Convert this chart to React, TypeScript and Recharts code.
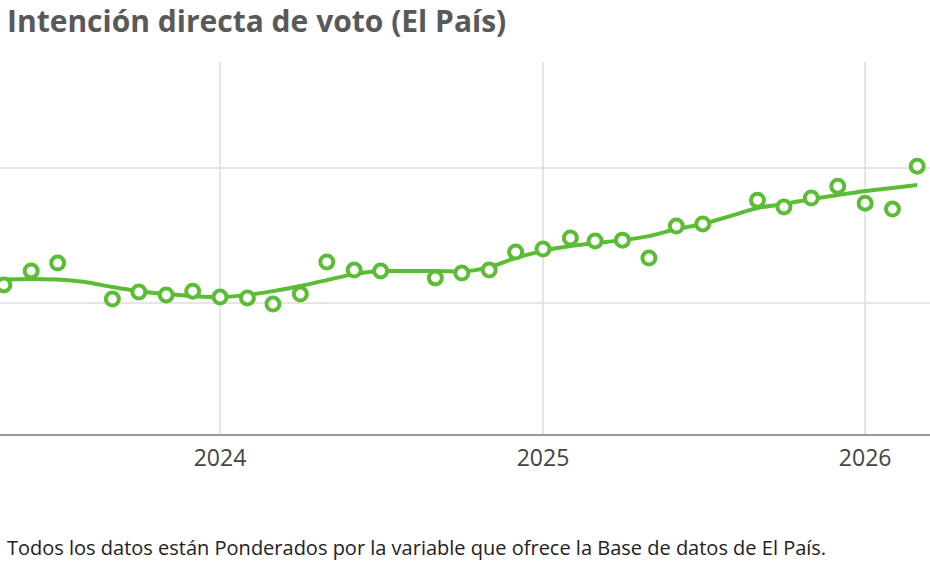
import React from "react";
import {
  ComposedChart,
  Line,
  Scatter,
  XAxis,
  YAxis,
  CartesianGrid,
} from "recharts";

// Encuestas mensuales (puntos)
const pollMonths = [
  "2023-05", "2023-06", "2023-07", "2023-09", "2023-10", "2023-11", "2023-12",
  "2024-01", "2024-02", "2024-03", "2024-04", "2024-05", "2024-06", "2024-07",
  "2024-09", "2024-10", "2024-11", "2024-12", "2025-01", "2025-02", "2025-03",
  "2025-04", "2025-05", "2025-06", "2025-07", "2025-09", "2025-10", "2025-11",
  "2025-12", "2026-01", "2026-02", "2026-03",
];
const pollValues = [
  10.67, 11.19, 11.48, 10.15, 10.41, 10.3, 10.44,
  10.22, 10.19, 9.96, 10.33, 11.52, 11.22, 11.19,
  10.93, 11.11, 11.22, 11.89, 12.0, 12.41, 12.3,
  12.33, 11.67, 12.85, 12.93, 13.81, 13.56, 13.89,
  14.33, 13.7, 13.48, 15.07,
];

// Tendencia suavizada
const trendMonths = [
  "2023-05", "2023-06", "2023-07", "2023-08", "2023-09", "2023-10", "2023-11",
  "2023-12", "2024-01", "2024-02", "2024-03", "2024-04", "2024-05", "2024-06",
  "2024-07", "2024-08", "2024-09", "2024-10", "2024-11", "2024-12", "2025-01",
  "2025-02", "2025-03", "2025-04", "2025-05", "2025-06", "2025-07", "2025-08",
  "2025-09", "2025-10", "2025-11", "2025-12", "2026-01", "2026-02", "2026-03",
];
const trendValues = [
  10.87, 10.89, 10.87, 10.78, 10.59, 10.44, 10.33,
  10.26, 10.22, 10.3, 10.44, 10.63, 10.85, 11.07,
  11.19, 11.19, 11.19, 11.17, 11.33, 11.67, 11.93,
  12.11, 12.22, 12.33, 12.48, 12.74, 12.93, 13.22,
  13.52, 13.67, 13.85, 14.0, 14.15, 14.26, 14.37,
];

const yearTicks = ["2024-01", "2025-01", "2026-01"];
const valueTicks = [10, 15];

const toTime = (m: string) => {
  const [y, mo] = m.split("-").map(Number);
  return Date.UTC(y, mo - 1, 1);
};

const pollData = pollMonths.map((m, i) => ({ t: toTime(m), v: pollValues[i] }));
const trendData = trendMonths.map((m, i) => ({ t: toTime(m), v: trendValues[i] }));

const GREEN = "#5bbd35";
const FONT = "'Open Sans', sans-serif";

const Ring = (props: any) => {
  const { cx, cy } = props;
  if (cx == null || cy == null) return null;
  return (
    <circle cx={cx} cy={cy} r={6.5} fill="#fff" stroke={GREEN} strokeWidth={4} />
  );
};

// y labels are not shown in the original
const NoTick = () => <g />;

export default function App() {
  return (
    <div
      style={{
        position: "absolute",
        left: 0,
        top: 0,
        width: 930,
        height: 568,
        background: "#fff",
        fontFamily: FONT,
        overflow: "hidden",
      }}
    >
      <div
        style={{
          position: "absolute",
          left: 7,
          top: 0,
          fontSize: 30,
          fontWeight: 700,
          color: "#595959",
          whiteSpace: "nowrap",
        }}
      >
        Intención directa de voto (El País)
      </div>
      <div style={{ position: "absolute", left: 0, top: 62 }}>
        <ComposedChart
          width={930}
          height={420}
          margin={{ top: 0, right: 0, bottom: 0, left: 0 }}
        >
          <CartesianGrid stroke="#dcdcdc" strokeWidth={1.5} syncWithTicks />
          <XAxis
            type="number"
            dataKey="t"
            domain={[Date.UTC(2023, 3, 26, 16), Date.UTC(2026, 2, 15, 12)]}
            ticks={yearTicks.map(toTime)}
            tickFormatter={(t: number) => String(new Date(t).getUTCFullYear())}
            allowDataOverflow
            height={47}
            tickLine={false}
            tickSize={0}
            tickMargin={15}
            axisLine={{ stroke: "#999", strokeWidth: 2 }}
            tick={{ fill: "#444", fontSize: 23, fontFamily: FONT }}
          />
          <YAxis
            type="number"
            dataKey="v"
            domain={[5.11, 18.93]}
            ticks={valueTicks}
            allowDataOverflow
            width={0}
            tick={NoTick}
            tickLine={false}
            axisLine={false}
          />
          <Line
            data={trendData}
            dataKey="v"
            type="monotone"
            stroke={GREEN}
            strokeWidth={4}
            dot={false}
            activeDot={false}
            isAnimationActive={false}
          />
          <Scatter
            data={pollData}
            dataKey="v"
            shape={<Ring />}
            isAnimationActive={false}
          />
        </ComposedChart>
      </div>
      <div
        style={{
          position: "absolute",
          left: 7,
          top: 534,
          fontSize: 20,
          color: "#222",
          whiteSpace: "nowrap",
        }}
      >
        Todos los datos están Ponderados por la variable que ofrece la Base de datos de El País.
      </div>
    </div>
  );
}
